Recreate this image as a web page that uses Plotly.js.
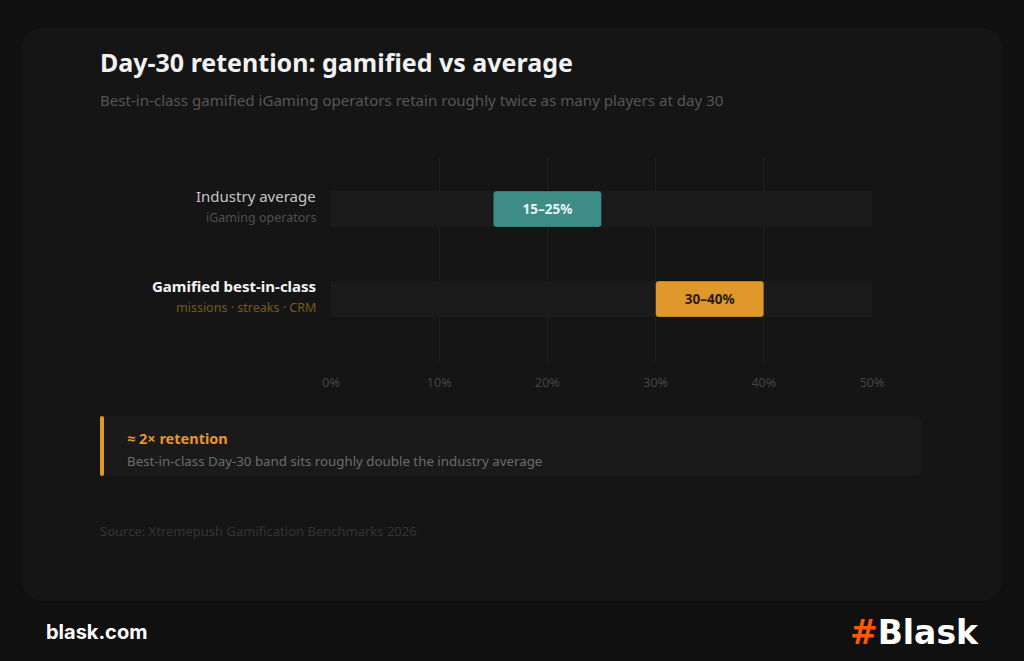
<!DOCTYPE html>
<html>
<head>
<meta charset="utf-8">
<script src="https://cdn.plot.ly/plotly-3.0.1.min.js"></script>
<style>
  html, body { margin: 0; padding: 0; background: #101010; }
  #chart { width: 1024px; height: 661px; }
</style>
</head>
<body>
<div id="chart"></div>
<script>
// ---- Data ----
const categories = ["Industry average", "Gamified best-in-class"];
const subLabels = ["iGaming operators", "missions · streaks · CRM"];
const lowValues = [15, 30];
const highValues = [25, 40];
const rangeLabels = ["15–25%", "30–40%"];
const barColors = ["#3d8c86", "#e0982a"];
const barTextColors = ["#e6f4f2", "#2b1c05"];
const tickValues = [0, 10, 20, 30, 40, 50];
const tickLabels = ["0%", "10%", "20%", "30%", "40%", "50%"];
const axisMax = 50;

const titleText = "Day-30 retention: gamified vs average";
const subtitleText = "Best-in-class gamified iGaming operators retain roughly twice as many players at day 30";
const calloutTitle = "≈ 2× retention";
const calloutText = "Best-in-class Day-30 band sits roughly double the industry average";
const sourceText = "Source: Xtremepush Gamification Benchmarks 2026";

// ---- Layout geometry (pixels) ----
const W = 1024, H = 661;
const L = 331, R = 872, T = 158, B = 363;
const pw = R - L, ph = B - T;
const px = x => (x - L) / pw;
const py = y => (B - y) / ph;

function roundRect(x0, y0, x1, y1, r) {
  const rx = r / pw, ry = r / ph;
  const a = px(x0), b = px(x1), top = py(y0), bot = py(y1);
  return `M ${a + rx},${top} L ${b - rx},${top} Q ${b},${top} ${b},${top - ry} ` +
         `L ${b},${bot + ry} Q ${b},${bot} ${b - rx},${bot} L ${a + rx},${bot} ` +
         `Q ${a},${bot} ${a},${bot + ry} L ${a},${top - ry} Q ${a},${top} ${a + rx},${top} Z`;
}

const FONT = "Noto Sans, Open Sans, sans-serif";

const bandTrace = {
  type: "bar", orientation: "h",
  y: categories,
  x: categories.map(() => axisMax),
  base: categories.map(() => 0),
  width: 0.4,
  marker: { color: "#1b1b1b", line: { width: 0 } },
  hoverinfo: "skip", showlegend: false
};

const rangeTrace = {
  type: "bar", orientation: "h",
  y: categories,
  x: highValues.map((h, i) => h - lowValues[i]),
  base: lowValues,
  width: 0.4,
  text: rangeLabels,
  textposition: "inside",
  insidetextanchor: "middle",
  textfont: { family: FONT, size: 13.5, color: barTextColors, weight: 700 },
  marker: { color: barColors, cornerradius: 3, line: { width: 1, color: "rgba(0,0,0,0.25)" } },
  hoverinfo: "skip", showlegend: false
};

const annotations = [];
function addText(text, x, y, size, color, opts = {}) {
  annotations.push(Object.assign({
    text: text, xref: "paper", yref: "paper", x: px(x), y: py(y),
    xanchor: "left", yanchor: "middle", showarrow: false,
    borderpad: 0, borderwidth: 0,
    font: { family: FONT, size: size, color: color }
  }, opts));
}

addText("<b>" + titleText + "</b>", 100, 62, 25, "#f2f2f2");
addText(subtitleText, 100, 100, 15.1, "#555555");

const labelColors = ["#c6c6c6", "#f4f4f4"];
const subColors = ["#4f4f4f", "#7a5a1c"];
categories.forEach((c, i) => {
  annotations.push({
    text: i === 1 ? "<b>" + c + "</b>" : c,
    xref: "paper", yref: "y", x: 0, y: c, xshift: -15, yshift: 13,
    xanchor: "right", yanchor: "middle", showarrow: false,
    borderpad: 0, borderwidth: 0,
    font: { family: FONT, size: 15, color: labelColors[i] }
  });
  annotations.push({
    text: subLabels[i],
    xref: "paper", yref: "y", x: 0, y: c, xshift: -15, yshift: -8,
    xanchor: "right", yanchor: "middle", showarrow: false,
    borderpad: 0, borderwidth: 0,
    font: { family: FONT, size: 12.5, color: subColors[i] }
  });
});

addText("<b>" + calloutTitle + "</b>", 127, 438, 14.5, "#e8962a");
addText(calloutText, 127, 461, 13.3, "#6c6c6c");
addText(sourceText, 100, 531, 13, "#343434");
addText("<b>blask.com</b>", 46, 632, 20, "#ffffff", { font: { family: "Inter, " + FONT, size: 20, color: "#ffffff" } });
annotations.push({
  text: '<b><span style="color:#ff5a00">#</span>Blask</b>',
  xref: "paper", yref: "paper", x: px(979), y: py(632),
  xanchor: "right", yanchor: "middle", showarrow: false,
  borderpad: 0, borderwidth: 0,
  font: { family: "DejaVu Sans, Inter, sans-serif", size: 33, color: "#ffffff" }
});

const shapes = [
  { type: "path", xref: "paper", yref: "paper", layer: "below",
    path: roundRect(22, 28, 1002, 601, 22), fillcolor: "#151515", line: { width: 0 } },
  { type: "path", xref: "paper", yref: "paper", layer: "below",
    path: roundRect(100, 416, 922, 476, 8), fillcolor: "#1a1a1a", line: { width: 0 } },
  { type: "path", xref: "paper", yref: "paper", layer: "above",
    path: roundRect(100, 416, 104, 476, 2), fillcolor: "#e0982a", line: { width: 0 } }
];

const layout = {
  width: W, height: H,
  margin: { l: L, r: W - R, t: T, b: H - B, pad: 0 },
  paper_bgcolor: "#101010",
  plot_bgcolor: "rgba(0,0,0,0)",
  barmode: "overlay",
  showlegend: false,
  hovermode: false,
  xaxis: {
    range: [0, axisMax], tickvals: tickValues, ticktext: tickLabels,
    showgrid: true, gridcolor: "#1f1f1f", gridwidth: 1,
    zeroline: false, showline: false,
    ticks: "outside", ticklen: 8, tickcolor: "rgba(0,0,0,0)",
    tickfont: { family: FONT, size: 12.5, color: "#444444" },
    fixedrange: true
  },
  yaxis: {
    type: "category", range: [1.71, -0.567], autorange: false,
    showticklabels: false, showgrid: false, zeroline: false, showline: false,
    fixedrange: true
  },
  shapes: shapes,
  annotations: annotations
};

Plotly.newPlot("chart", [bandTrace, rangeTrace], layout, { displayModeBar: false, staticPlot: true });
</script>
</body>
</html>
